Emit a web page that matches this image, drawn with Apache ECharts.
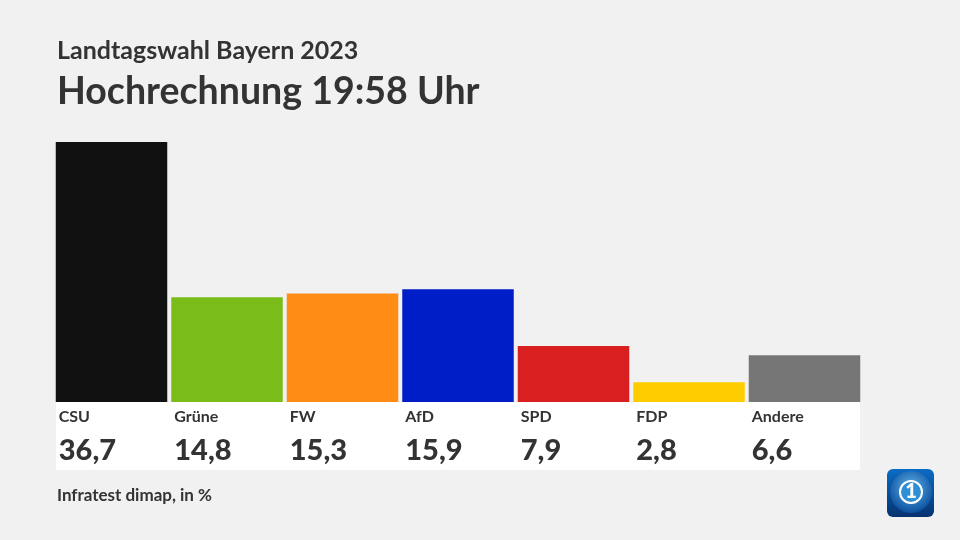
<!DOCTYPE html>
<html>
<head>
<meta charset="utf-8">
<title>Landtagswahl Bayern 2023</title>
<style>
  html, body { margin: 0; padding: 0; background: #f1f1f1; }
  #chart { width: 960px; height: 540px; }
</style>
<script src="https://cdn.jsdelivr.net/npm/echarts@6/dist/echarts.min.js"></script>
</head>
<body>
<div id="chart"></div>
<script>
//数据
var parties = ["CSU", "Grüne", "FW", "AfD", "SPD", "FDP", "Andere"];
var shares = [36.7, 14.8, 15.3, 15.9, 7.9, 2.8, 6.6];
var partyColors = ["#111111", "#7abd1a", "#ff8c14", "#001ec8", "#d91f1f", "#ffcc00", "#767676"];

var fontName = "Lato";
var textColor = "#333333";

var myChart = echarts.init(document.getElementById("chart"));

myChart.setOption({
    animation: false,
    backgroundColor: "#f1f1f1",
    textStyle: { fontFamily: fontName },
    title: [
        { text: "Landtagswahl Bayern 2023", left: 57, top: 38, padding: 0,
          textStyle: { fontFamily: fontName, fontSize: 25, fontWeight: 700, color: textColor } },
        { text: "Hochrechnung 19:58 Uhr", left: 57, top: 73, padding: 0,
          textStyle: { fontFamily: fontName, fontSize: 37.5, fontWeight: 700, color: textColor } },
        { text: "Infratest dimap, in %", left: 57, top: 487, padding: 0,
          textStyle: { fontFamily: fontName, fontSize: 17, fontWeight: 700, color: textColor } }
    ],
    grid: { left: 53.75, top: 142, width: 808.5, height: 260 },
    xAxis: {
        type: "category",
        data: parties,
        axisLine: { show: false },
        axisTick: { show: false },
        axisLabel: { show: false }
    },
    yAxis: { type: "value", min: 0, max: 36.7, show: false },
    series: [{
        type: "bar",
        barWidth: 111.5,
        data: shares.map(function (v, i) {
            return { value: v, itemStyle: { color: partyColors[i] } };
        }),
        label: {
            show: true,
            position: [3, "100%"],
            distance: 0,
            formatter: function (p) {
                return "{name|" + p.name + "}\n{val|" + p.value.toFixed(1).replace(".", ",") + "}";
            },
            rich: {
                name: { fontFamily: fontName, fontSize: 16, fontWeight: 700, color: textColor, height: 30, lineHeight: 30 },
                val: { fontFamily: fontName, fontSize: 29, fontWeight: 900, color: textColor, height: 38, lineHeight: 38 }
            }
        }
    }],
    graphic: [
        // weißer Streifen unter den Balken
        { type: "rect", shape: { x: 56, y: 402, width: 804, height: 68 }, style: { fill: "#ffffff" }, z: 0 },
        // Logo
        { type: "rect", shape: { x: 887, y: 469, width: 47, height: 48, r: 6 },
          style: { fill: new echarts.graphic.LinearGradient(0, 0, 0, 1, [
              { offset: 0, color: "#0a6cc4" }, { offset: 1, color: "#06336f" }
          ]) }, z: 3 },
        { type: "circle", shape: { cx: 911, cy: 492, r: 21 },
          style: { fill: new echarts.graphic.RadialGradient(0.5, 0.4, 0.6, [
              { offset: 0, color: "#5fb4ea" }, { offset: 1, color: "#0b4f9e" }
          ]) }, z: 4 },
        { type: "circle", shape: { cx: 911, cy: 492, r: 11 },
          style: { fill: "#2f8fd6", stroke: "#ffffff", lineWidth: 2 }, z: 5 },
        { type: "text", x: 911, y: 492, z: 6,
          style: { text: "1", fill: "#ffffff", fontFamily: fontName, fontSize: 20, fontWeight: 900, align: "center", verticalAlign: "middle" } }
    ]
});
</script>
</body>
</html>
